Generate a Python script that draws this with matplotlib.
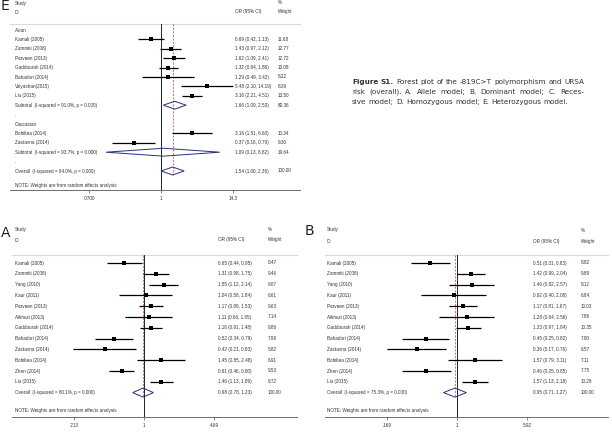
"""Forest plots of -819C>T and URSA risk: panels E (by ethnicity), A and B."""
import numpy as np
import matplotlib
matplotlib.use("Agg")
import matplotlib.pyplot as plt
from matplotlib.patches import Polygon
from matplotlib.transforms import blended_transform_factory

W, H = 612, 438
ROW_FONT = ["Liberation Sans", "DejaVu Sans"]
ROW_SIZE = 3.3

# ---- panel E: heterozygous model, subgrouped by ethnicity ----
E_STUDIES = ["Kamali (2005)", "Zammiti (2008)", "Parveen (2013)", "Gaddourah (2014)",
             "Bahadori (2014)", "Vaiyashan(2015)", "Liu (2015)",
             "Bohiltea (2014)", "Zastavna (2014)"]
E_GROUP = ["Asian"] * 7 + ["Caucasian"] * 2
E_OR = [0.69, 1.43, 1.62, 1.32, 1.29, 5.48, 3.16, 3.16, 0.37]
E_LO = [0.42, 0.97, 1.09, 0.94, 0.49, 2.10, 2.21, 1.51, 0.16]
E_HI = [1.13, 2.12, 2.41, 1.86, 3.42, 14.19, 4.51, 6.60, 0.79]
E_WT = [11.68, 12.77, 12.72, 13.08, 8.22, 8.39, 13.50, 10.34, 9.30]
E_SUB_GROUPS = ["Asian", "Caucasian"]
E_SUB_I2 = [91.0, 93.7]
E_SUB_OR = [1.66, 1.09]
E_SUB_LO = [1.09, 0.13]
E_SUB_HI = [2.53, 8.82]
E_SUB_WT = [80.36, 19.64]
E_ALL = (1.54, 1.00, 2.36, 100.00, 94.0)
E_TICKS = [0.07, 1, 14.3]
E_TICKLABELS = [".0700", "1", "14.3"]

# ---- panels A and B share the study list ----
AB_STUDIES = ["Kamali (2005)", "Zammiti (2008)", "Yang (2010)", "Kaur (2011)",
              "Parveen (2013)", "Alkhuzi (2013)", "Gaddourah (2014)", "Bahadori (2014)",
              "Zastavna (2014)", "Bohiltea (2014)", "Zhen (2014)", "Liu (2015)"]

A_OR = [0.65, 1.31, 1.55, 1.04, 1.17, 1.11, 1.16, 0.52, 0.42, 1.45, 0.61, 1.46]
A_LO = [0.44, 0.98, 1.12, 0.58, 0.89, 0.66, 0.91, 0.34, 0.21, 0.85, 0.46, 1.13]
A_HI = [0.95, 1.75, 2.14, 1.84, 1.53, 1.85, 1.48, 0.79, 0.83, 2.48, 0.80, 1.89]
A_WT = [8.47, 9.46, 9.07, 6.61, 9.63, 7.14, 9.86, 7.99, 5.82, 6.91, 9.53, 9.72]
A_ALL = (0.98, 0.78, 1.23, 100.00, 80.1)
A_TICKS = [0.213, 1, 4.69]
A_TICKLABELS = [".213", "1", "4.69"]

B_OR = [0.51, 1.42, 1.46, 0.92, 1.17, 1.28, 1.33, 0.45, 0.36, 1.57, 0.46, 1.57]
B_LO = [0.31, 0.99, 0.82, 0.40, 0.81, 0.64, 0.97, 0.25, 0.17, 0.79, 0.25, 1.13]
B_HI = [0.83, 2.04, 2.57, 2.08, 1.67, 2.56, 1.84, 0.82, 0.76, 3.11, 0.85, 2.18]
B_WT = [8.82, 9.89, 8.12, 6.84, 10.03, 7.86, 10.35, 7.80, 6.57, 7.11, 7.75, 10.28]
B_ALL = (0.95, 0.71, 1.27, 100.00, 75.3)
B_TICKS = [0.169, 1, 5.92]
B_TICKLABELS = [".169", "1", "5.92"]

CAPTION = [
    [("Figure", True), ("S1.", True)] + [(w, False) for w in
        "Forest plot of the -819C>T polymorphism and URSA".split()],
    [(w, False) for w in
        "risk (overall). A. Allele model; B. Dominant model; C. Reces-".split()],
    [(w, False) for w in
        "sive model; D. Homozygous model; E. Heterozygous model.".split()],
]


def ci_text(o, lo, hi):
    return f"{o:.2f} ({lo:.2f}, {hi:.2f})"


def build_rows_e():
    rows = []
    for grp, i2, so, sl, sh, sw in zip(E_SUB_GROUPS, E_SUB_I2, E_SUB_OR,
                                       E_SUB_LO, E_SUB_HI, E_SUB_WT):
        rows.append(dict(kind="head", label=grp))
        for s, gg, o, lo, hi, w in zip(E_STUDIES, E_GROUP, E_OR, E_LO, E_HI, E_WT):
            if gg == grp:
                rows.append(dict(kind="study", label=s, o=o, lo=lo, hi=hi, w=w))
        rows.append(dict(kind="dia", label=f"Subtotal  (I-squared = {i2:.1f}%, p = 0.000)",
                         o=so, lo=sl, hi=sh, w=sw))
        rows.append(dict(kind="head", label="."))
    o, lo, hi, w, i2 = E_ALL
    rows.append(dict(kind="dia", label=f"Overall  (I-squared = {i2:.1f}%, p = 0.000)",
                     o=o, lo=lo, hi=hi, w=w, overall=True))
    return rows


def build_rows_ab(ors, los, his, wts, overall):
    rows = [dict(kind="study", label=s, o=o, lo=lo, hi=hi, w=w)
            for s, o, lo, hi, w in zip(AB_STUDIES, ors, los, his, wts)]
    o, lo, hi, w, i2 = overall
    rows.append(dict(kind="dia", label=f"Overall  (I-squared = {i2:.1f}%, p = 0.000)",
                     o=o, lo=lo, hi=hi, w=w, overall=True))
    return rows


def forest(fig, rows, spec, ticks, ticklabels):
    left, right, top, bottom = spec["box"]
    y0, dy = spec["row0"], spec["dy"]
    c, s = spec["one"], spec["scale"]
    ax = fig.add_axes([left / W, 1 - bottom / H, (right - left) / W, (bottom - top) / H])
    ax.set_xscale("log")
    ax.set_xlim(np.exp((left - c) / s), np.exp((right - c) / s))
    ytop, ybot = (top - y0) / dy, (bottom - y0) / dy
    ax.set_ylim(ybot, ytop)
    for k in ("left", "right", "top"):
        ax.spines[k].set_visible(False)
    ax.spines["bottom"].set_color("#555555")
    ax.spines["bottom"].set_linewidth(0.6)
    ax.set_yticks([])
    ax.set_xticks(ticks)
    ax.set_xticklabels(ticklabels, fontsize=ROW_SIZE, family=ROW_FONT, color="#333333")
    ax.xaxis.set_minor_locator(matplotlib.ticker.NullLocator())
    ax.tick_params(axis="x", length=2, width=0.5, pad=2, color="#555555")
    ax.patch.set_alpha(0)

    ax.axhline(ytop, color="#d8d8d8", lw=0.8, clip_on=False)
    ax.plot([1, 1], [ytop, ybot], color="black", lw=0.6)

    tr = blended_transform_factory(fig.transFigure, ax.transData)
    txt = dict(fontsize=ROW_SIZE, family=ROW_FONT, color="#333333", va="center", transform=tr)
    ov_y = ov_o = None
    for y, r in enumerate(rows):
        ax.text(spec["xlab"] / W, y, r["label"], ha="left", **txt)
        if r["kind"] == "head":
            continue
        ax.text(spec["xor"] / W, y, ci_text(r["o"], r["lo"], r["hi"]), ha="left", **txt)
        ax.text(spec["xwt"] / W, y, f"{r['w']:.2f}", ha="left", **txt)
        if r["kind"] == "study":
            ax.hlines(y, r["lo"], r["hi"], color="black", lw=0.9, zorder=3)
            ax.scatter([r["o"]], [y], marker="s", color="black",
                       s=(2.3 + 0.07 * r["w"]) ** 2, lw=0, zorder=4)
        else:
            h = 0.42
            ax.add_patch(Polygon([(r["lo"], y), (r["o"], y - h), (r["hi"], y), (r["o"], y + h)],
                                 closed=True, fill=False, ec="#27307f", lw=0.7, zorder=3))
            if r.get("overall"):
                ov_y, ov_o = y, r["o"]
    ax.plot([ov_o, ov_o], [ytop, ov_y + 0.42], color="#c0392b", lw=0.5, ls=(0, (3, 2)))
    ax.text(spec["xlab"] / W, ov_y + spec["note_gap"],
            "NOTE: Weights are from random effects analysis", ha="left", **txt)

    hy1, hy2 = spec["head_y"]
    kw = dict(fontsize=ROW_SIZE, family=ROW_FONT, color="#333333", va="center")
    fig.text(spec["xlab"] / W, 1 - hy1 / H, "Study", **kw)
    fig.text(spec["xlab"] / W, 1 - hy2 / H, "ID", **kw)
    fig.text(spec["xor"] / W, 1 - hy2 / H, "OR (95% CI)", **kw)
    fig.text(spec["xwt"] / W, 1 - hy1 / H, "%", **kw)
    fig.text(spec["xwt"] / W, 1 - hy2 / H, "Weight", **kw)
    lx, ly = spec["letter"]
    fig.text(lx / W, 1 - ly / H, spec["name"], fontsize=10, family="DejaVu Sans",
             color="#222222", va="center", ha="left")
    return ax


def caption(fig, lines, x0, x1, y0, dy, size):
    r = fig.canvas.get_renderer()
    space = size * 100 / 72 * 0.32
    for i, words in enumerate(lines):
        ts = [fig.text(0, 0, w, fontsize=size, family="DejaVu Sans", color="#333333",
                       fontweight="bold" if b else "normal", va="center") for w, b in words]
        widths = [t.get_window_extent(r).width for t in ts]
        gap = space if i == len(lines) - 1 else (x1 - x0 - sum(widths)) / (len(ts) - 1)
        x = x0
        for t, wd in zip(ts, widths):
            t.set_position((x / W, 1 - (y0 + i * dy) / H))
            x += wd + gap


fig = plt.figure(figsize=(W / 100, H / 100), dpi=100)

spec_e = dict(name="E", box=(10, 300, 24, 190), row0=30, dy=9.4, one=161, scale=27.0,
              xlab=15, xor=235, xwt=278, head_y=(3, 12), letter=(1, 6), note_gap=1.5)
forest(fig, build_rows_e(), spec_e, E_TICKS, E_TICKLABELS)

spec_a = dict(name="A", box=(12, 297, 255, 417), row0=263, dy=10.8, one=144, scale=45.3,
              xlab=15, xor=218, xwt=268, head_y=(229, 240), letter=(1, 233), note_gap=1.7)
forest(fig, build_rows_ab(A_OR, A_LO, A_HI, A_WT, A_ALL), spec_a, A_TICKS, A_TICKLABELS)

spec_b = dict(name="B", box=(325, 608, 255, 417), row0=263, dy=10.8, one=457, scale=39.4,
              xlab=327, xor=533, xwt=581, head_y=(230, 241), letter=(305, 231), note_gap=1.7)
forest(fig, build_rows_ab(B_OR, B_LO, B_HI, B_WT, B_ALL), spec_b, B_TICKS, B_TICKLABELS)

caption(fig, CAPTION, 352, 584, 82, 10, 5.2)

fig.savefig("out.png", dpi=100)
